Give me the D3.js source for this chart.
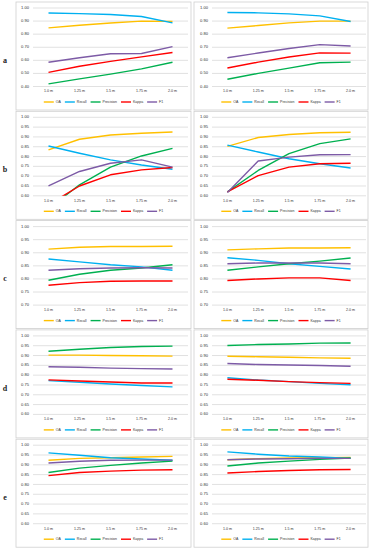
<!DOCTYPE html>
<html>
<head>
<meta charset="utf-8">
<script src="https://cdn.jsdelivr.net/npm/d3@7"></script>
<style>
  html, body { margin: 0; padding: 0; background: #fff; }
  svg { display: block; font-family: "Liberation Sans", Arial, sans-serif; }
  .grid line { stroke: #d4d4d4; stroke-width: 0.7; }
  .box { fill: none; stroke: #cfcfcf; stroke-width: 0.8; }
  .tick-label { fill: #333; }
  .row-label { font-family: "Liberation Serif", "Times New Roman", serif; font-weight: bold; font-size: 8px; fill: #222; }
</style>
</head>
<body>
<svg id="chart" width="371" height="550"></svg>
<script>
// categories and series
const categories = ['1.0 m', '1.25 m', '1.5 m', '1.75 m', '2.0 m'];
const metrics = ['OA', 'Recall', 'Precision', 'Kappa', 'F1'];
const colors = ['#ffc000', '#00b0f0', '#00b050', '#ff0000', '#7d5ba6'];
const rowLabels = ['a', 'b', 'c', 'd', 'e'];
const yDomains = [[0.40, 1.00], [0.60, 1.00], [0.70, 1.00], [0.60, 1.00], [0.60, 1.00]];
const yTickSteps = [0.10, 0.05, 0.05, 0.05, 0.05];

// one array per panel, rows in the order of `metrics`
const aLeft = [
  [0.848, 0.868, 0.885, 0.900, 0.898],
  [0.962, 0.957, 0.950, 0.935, 0.886],
  [0.420, 0.458, 0.495, 0.535, 0.585],
  [0.508, 0.555, 0.592, 0.626, 0.660],
  [0.585, 0.620, 0.650, 0.652, 0.705]
];
const aRight = [
  [0.846, 0.866, 0.886, 0.900, 0.900],
  [0.966, 0.963, 0.955, 0.940, 0.897],
  [0.455, 0.500, 0.540, 0.582, 0.586],
  [0.541, 0.586, 0.625, 0.657, 0.655],
  [0.620, 0.656, 0.690, 0.720, 0.709]
];
const bLeft = [
  [0.834, 0.888, 0.910, 0.919, 0.925],
  [0.854, 0.817, 0.783, 0.757, 0.735],
  [0.535, 0.656, 0.746, 0.803, 0.842],
  [0.555, 0.650, 0.707, 0.732, 0.744],
  [0.651, 0.724, 0.766, 0.783, 0.746]
];
const bRight = [
  [0.852, 0.897, 0.912, 0.921, 0.924],
  [0.858, 0.823, 0.789, 0.763, 0.742],
  [0.620, 0.729, 0.815, 0.866, 0.890],
  [0.620, 0.703, 0.746, 0.763, 0.766],
  [0.617, 0.777, 0.797, 0.809, 0.810]
];
const cLeft = [
  [0.914, 0.921, 0.924, 0.924, 0.925],
  [0.876, 0.865, 0.854, 0.846, 0.833],
  [0.795, 0.818, 0.833, 0.842, 0.854],
  [0.776, 0.786, 0.791, 0.792, 0.792],
  [0.833, 0.839, 0.842, 0.843, 0.842]
];
const cRight = [
  [0.911, 0.915, 0.918, 0.918, 0.919],
  [0.881, 0.871, 0.858, 0.848, 0.838],
  [0.833, 0.846, 0.858, 0.868, 0.880],
  [0.794, 0.800, 0.804, 0.804, 0.794],
  [0.858, 0.861, 0.861, 0.861, 0.858]
];
const dLeft = [
  [0.902, 0.902, 0.900, 0.899, 0.897],
  [0.772, 0.764, 0.755, 0.747, 0.740],
  [0.922, 0.932, 0.941, 0.946, 0.948],
  [0.776, 0.770, 0.765, 0.760, 0.760],
  [0.843, 0.840, 0.836, 0.833, 0.831]
];
const dRight = [
  [0.896, 0.894, 0.891, 0.888, 0.886],
  [0.787, 0.775, 0.767, 0.758, 0.751],
  [0.951, 0.956, 0.959, 0.963, 0.964],
  [0.779, 0.774, 0.767, 0.762, 0.758],
  [0.859, 0.854, 0.852, 0.849, 0.845]
];
const eLeft = [
  [0.923, 0.933, 0.936, 0.940, 0.943],
  [0.961, 0.949, 0.936, 0.930, 0.923],
  [0.861, 0.883, 0.897, 0.909, 0.919],
  [0.845, 0.861, 0.868, 0.873, 0.875],
  [0.909, 0.918, 0.923, 0.924, 0.924]
];
const eRight = [
  [0.926, 0.931, 0.935, 0.936, 0.938],
  [0.966, 0.954, 0.945, 0.940, 0.933],
  [0.894, 0.909, 0.919, 0.928, 0.935],
  [0.858, 0.866, 0.871, 0.875, 0.876],
  [0.926, 0.930, 0.931, 0.933, 0.933]
];
const panels = [[aLeft, aRight], [bLeft, bRight], [cLeft, cRight], [dLeft, dRight], [eLeft, eRight]];

// layout
const columns = [
  { box: [16, 191], plot: [33, 188] },
  { box: [194, 368], plot: [212, 366] }
];
const rowTop = i => 8 + i * 109.3;
const plotH = 78.5;
const fmt = d3.format('.2f');

const svg = d3.select('#chart');
const defs = svg.append('defs');

rowLabels.forEach((label, r) => {
  const top = rowTop(r), bottom = top + plotH;

  svg.append('text')
    .attr('class', 'row-label')
    .attr('x', 5).attr('y', top + 53)
    .attr('text-anchor', 'middle')
    .attr('dominant-baseline', 'middle')
    .text(label);

  columns.forEach((col, c) => {
    const data = panels[r][c];
    const g = svg.append('g');

    g.append('rect')
      .attr('class', 'box')
      .attr('x', col.box[0]).attr('y', top - 6)
      .attr('width', col.box[1] - col.box[0]).attr('height', 108);

    const x = d3.scalePoint().domain(categories).range(col.plot).padding(0.5);
    const [lo, hi] = yDomains[r];
    const y = d3.scaleLinear().domain([lo, hi]).range([bottom, top]);
    const n = Math.round((hi - lo) / yTickSteps[r]);
    const ticks = d3.range(n + 1).map(i => lo + i * yTickSteps[r]);

    g.append('g').attr('class', 'grid')
      .selectAll('line').data(ticks).join('line')
      .attr('x1', col.plot[0]).attr('x2', col.plot[1])
      .attr('y1', d => y(d)).attr('y2', d => y(d));

    g.append('g').selectAll('text').data(ticks).join('text')
      .attr('class', 'tick-label')
      .attr('x', col.plot[0] - 4).attr('y', d => y(d))
      .attr('text-anchor', 'end')
      .attr('dominant-baseline', 'middle')
      .style('font-size', '4.1px')
      .text(d => fmt(d));

    g.append('g').selectAll('text').data(categories).join('text')
      .attr('class', 'tick-label')
      .attr('x', d => x(d)).attr('y', bottom + 5)
      .attr('text-anchor', 'middle')
      .attr('dominant-baseline', 'middle')
      .style('font-size', '3.6px')
      .text(d => d);

    const clipId = `clip-${r}-${c}`;
    defs.append('clipPath').attr('id', clipId)
      .append('rect')
      .attr('x', col.plot[0]).attr('y', top)
      .attr('width', col.plot[1] - col.plot[0]).attr('height', plotH);

    const line = d3.line().x((_, i) => x(categories[i])).y(d => y(d));
    g.append('g').attr('clip-path', `url(#${clipId})`)
      .selectAll('path').data(data).join('path')
      .attr('d', d => line(d))
      .attr('fill', 'none')
      .attr('stroke', (_, i) => colors[i])
      .attr('stroke-width', 1.4)
      .attr('stroke-linejoin', 'round');

    // legend, centred under the box
    const leg = g.append('g');
    let cx = 0;
    metrics.forEach((m, i) => {
      const item = leg.append('g').attr('transform', `translate(${cx},0)`);
      item.append('line')
        .attr('x1', 0).attr('x2', 10).attr('y1', 0).attr('y2', 0)
        .attr('stroke', colors[i]).attr('stroke-width', 1.4);
      const t = item.append('text')
        .attr('class', 'tick-label')
        .attr('x', 12).attr('y', 0)
        .attr('dominant-baseline', 'middle')
        .style('font-size', '3.5px')
        .text(m);
      cx += 12 + t.node().getComputedTextLength() + 4;
    });
    const legW = cx - 4;
    const mid = (col.box[0] + col.box[1]) / 2;
    leg.attr('transform', `translate(${mid - legW / 2},${top + 94})`);
  });
});
</script>
</body>
</html>
